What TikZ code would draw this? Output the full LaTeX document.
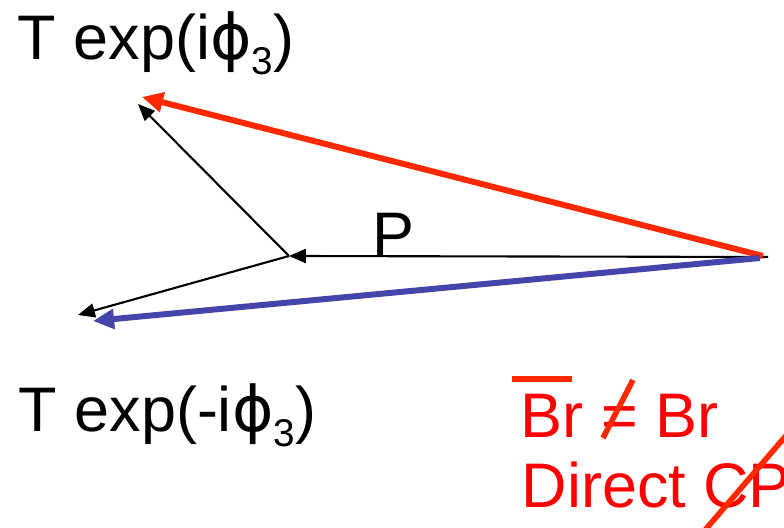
\documentclass[tikz,border=0pt]{standalone}
\usepackage{fontspec}
\setmainfont{Liberation Sans}
\newfontfamily\phifont{DejaVu Sans}
\usepackage{xcolor}
\usetikzlibrary{arrows.meta}

\definecolor{ampred}{RGB}{255,40,0}
\definecolor{ampblue}{RGB}{68,68,170}
\newcommand{\phisub}[1]{{\phifont ϕ}\raisebox{-4pt}{\fontsize{11}{12}\selectfont #1}}

\begin{document}
\begin{tikzpicture}[x=0.01cm, y=-0.01cm,
  >={Triangle[length=4.8pt, width=4pt]},
  every node/.style={inner sep=0pt, anchor=base west, font=\fontsize{17.9}{21}\selectfont}]
\useasboundingbox (0,0) rectangle (784,528);
\clip (0,0) rectangle (784,528);
\coordinate (R) at (768,257);
\coordinate (Q) at (289,256);
\coordinate (U) at (138,104);
\coordinate (D) at (78,315);
\coordinate (Rr) at (763,256);
\coordinate (Ur) at (142,97);
\coordinate (Rb) at (760,258);
\coordinate (Db) at (93,321);
% amplitudes
\draw[->, black, line width=0.6pt] (R) -- (Q);
\foreach \p in {U,D}{
    \draw[->, black, line width=0.6pt] (Q) -- (\p);
}
\draw[-{Triangle[length=6pt, width=5.5pt]}, ampred,  line width=1.7pt] (Rr) -- (Ur);
\draw[-{Triangle[length=6pt, width=5.5pt]}, ampblue, line width=1.7pt] (Rb) -- (Db);
% labels
\node (p) at (372,257) {P};
\node (tu) at (17,60) {T exp(i\phisub{3})};
\node (td) at (18,432) {T exp(-i\phisub{3})};
\node[red] (br) at (520,438) {Br = Br};
\node[red] (cp) at (521,508) {Direct CP};
\draw[ampred, line width=1.6pt] (512,379) -- (572,379);
\draw[ampred, line width=1.6pt] (603,438) -- (633,380);
\draw[ampred, line width=1.6pt] (700,536) -- (790,431);
\end{tikzpicture}
\end{document}
